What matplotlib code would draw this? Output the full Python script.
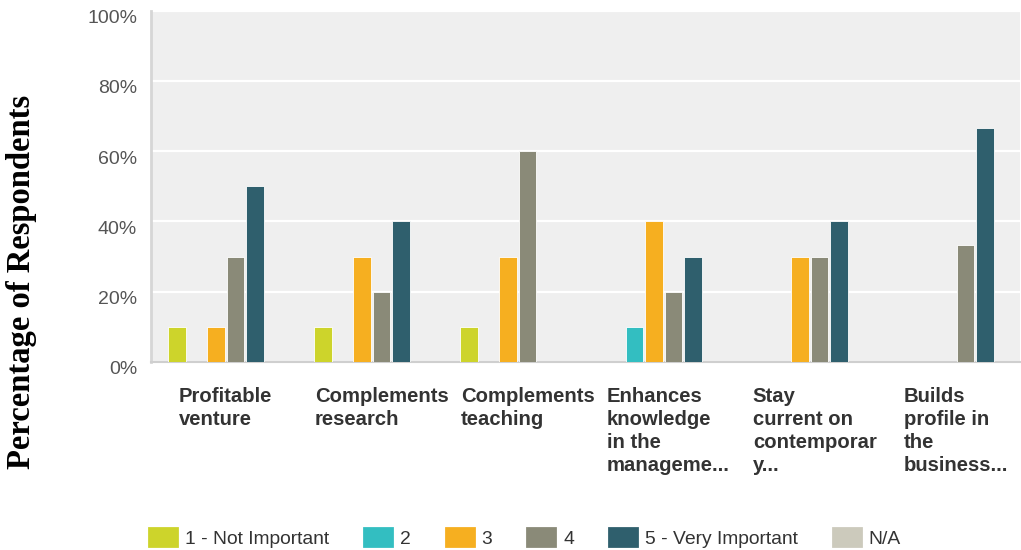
import numpy as np
import matplotlib.pyplot as plt
import matplotlib.transforms as mtransforms
from matplotlib.patches import Patch

categories = ['Profitable\nventure', 'Complements\nresearch', 'Complements\nteaching',
              'Enhances\nknowledge\nin the\nmanageme...', 'Stay\ncurrent on\ncontemporar\ny...',
              'Builds\nprofile in\nthe\nbusiness...']
ratings = ['1 - Not Important', '2', '3', '4', '5 - Very Important', 'N/A']

# percent of respondents per rating, one list per category
not_important = [10, 10, 10, 0, 0, 0]
two = [0, 0, 0, 10, 0, 0]
three = [10, 30, 30, 40, 30, 0]
four = [30, 20, 60, 20, 30, 33.33]
very_important = [50, 40, 0, 30, 40, 66.67]
n_a = [0, 0, 0, 0, 0, 0]

colors = ['#CDD42B', '#33BEC1', '#F6AF20', '#8A8A78', '#2F5F6D', '#CCCABC']
yticks = [0, 20, 40, 60, 80, 100]

series = [not_important, two, three, four, very_important, n_a]

fig = plt.figure(figsize=(10.21, 5.50), dpi=100)
ax = fig.add_axes([151/1021, 1 - 362/550, 869/1021, 351.5/550])
ax.set_facecolor('#EFEFEF')

x = np.arange(len(categories))
step = 0.1336
width = 0.12
for k, (vals, c) in enumerate(zip(series, colors)):
    off = (k - 2.5) * step
    ax.bar(x + off, vals, width, color=c, edgecolor='#FFFFFF', linewidth=0.6,
           zorder=3)

ax.set_xlim(-0.512, 5.44)
ax.set_ylim(0, 100)
ax.set_yticks(yticks)
ax.set_yticklabels([f'{v}%' for v in yticks], fontsize=14, color='#555555',
                   family='Liberation Sans')
ax.yaxis.grid(True, color='white', linewidth=1.6, zorder=1)
ax.tick_params(axis='y', length=0, pad=10)
# nudge the percent labels slightly below their grid lines
shift = mtransforms.ScaledTranslation(0, -6/100, fig.dpi_scale_trans)
for lab in ax.get_yticklabels():
    lab.set_transform(lab.get_transform() + shift)

# category labels: block centred under the group, lines left aligned,
# block width capped so long words spill over to the right
ax.set_xticks(x)
ax.set_xticklabels(categories, ha='center', va='top', multialignment='left',
                   fontsize=14.6, fontweight='bold', color='#333333',
                   family='Liberation Sans', linespacing=1.26)
ax.tick_params(axis='x', length=0, pad=18)

for side in ['top', 'right']:
    ax.spines[side].set_visible(False)
ax.spines['left'].set_color('#D6D6D6')
ax.spines['left'].set_linewidth(2)
ax.spines['bottom'].set_color('#CFCFCF')
ax.spines['bottom'].set_linewidth(1.5)

fig.text(22/1021, 1 - 282/550, 'Percentage of Respondents', rotation=90,
         ha='center', va='center', fontsize=23.5, fontweight='bold',
         family='Liberation Serif', color='black')

handles = [Patch(facecolor=c, edgecolor=c, linewidth=2, joinstyle='round') for c in colors]
fig.legend(handles, ratings, loc='center left', bbox_to_anchor=(149/1021, 1 - 538/550),
           ncol=6, frameon=False, prop={'family': 'Liberation Sans', 'size': 13.9},
           labelcolor='#333333', handlelength=1.45, handleheight=1.05,
           handletextpad=0.42, columnspacing=1.8, borderaxespad=0, borderpad=0)

fig.canvas.draw()
renderer = fig.canvas.get_renderer()
cap = 114
for lab in ax.get_xticklabels():
    w = lab.get_window_extent(renderer).width
    if w > cap:
        dx = (w - cap) / 2 / fig.dpi
        lab.set_transform(lab.get_transform() +
                          mtransforms.ScaledTranslation(dx, 0, fig.dpi_scale_trans))

fig.savefig('out.png', dpi=100)
